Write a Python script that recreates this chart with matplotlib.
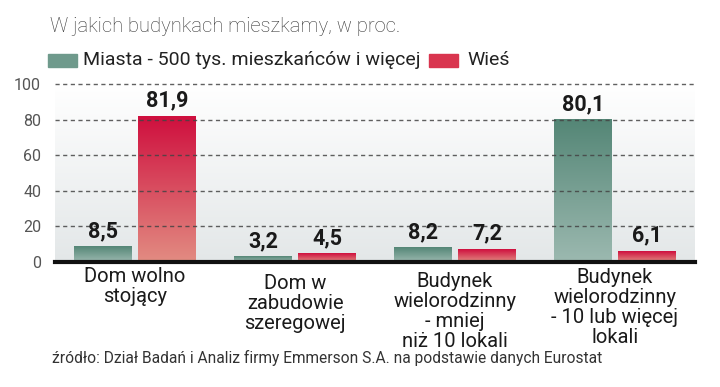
import numpy as np
import matplotlib.pyplot as plt
from matplotlib.colors import LinearSegmentedColormap

categories = [
    "Dom wolno\nstojący",
    "Dom w\nzabudowie\nszeregowej",
    "Budynek\nwielorodzinny\n- mniej\nniż 10 lokali",
    "Budynek\nwielorodzinny\n- 10 lub więcej\nlokali",
]
miasta = [8.5, 3.2, 8.2, 80.1]
wies = [81.9, 4.5, 7.2, 6.1]
value_labels_miasta = ["8,5", "3,2", "8,2", "80,1"]
value_labels_wies = ["81,9", "4,5", "7,2", "6,1"]
yticks = [0, 20, 40, 60, 80, 100]

title = "W jakich budynkach mieszkamy, w proc."
label_miasta = "Miasta - 500 tys. mieszkańców i więcej"
label_wies = "Wieś"
source = "źródło: Dział Badań i Analiz firmy Emmerson S.A. na podstawie danych Eurostat"

plt.rcParams["font.family"] = ["Roboto", "DejaVu Sans"]

green_cmap = LinearSegmentedColormap.from_list("g", ["#9cb9b0", "#548676"])
red_cmap = LinearSegmentedColormap.from_list("r", ["#e28c82", "#cf0f3e"])
bg_cmap = LinearSegmentedColormap.from_list("bg", ["#e3e7e8", "#ffffff"])

fig = plt.figure(figsize=(7.2, 3.87), dpi=100)
ax = fig.add_axes([55 / 720, 125 / 387, 640 / 720, 178 / 387])

x = np.arange(len(categories))
width = 0.36
offset = 0.2

# background gradient
grad = np.linspace(0, 1, 256).reshape(-1, 1)
ax.imshow(grad, cmap=bg_cmap, origin="lower", extent=[0, 1, 0, 1],
          transform=ax.transAxes, aspect="auto", zorder=0)

bars_m = ax.bar(x - offset, miasta, width, color="none", zorder=2)
bars_w = ax.bar(x + offset, wies, width, color="none", zorder=2)


def fill_gradient(bars, cmap):
    for b in bars:
        x0, h, w = b.get_x(), b.get_height(), b.get_width()
        ax.imshow(grad, cmap=cmap, origin="lower",
                  extent=[x0, x0 + w, 0, h], aspect="auto", zorder=2)


fill_gradient(bars_m, green_cmap)
fill_gradient(bars_w, red_cmap)
ax.set_xlim(-0.5, len(categories) - 0.5)
ax.set_ylim(0, 100)

for v in yticks[1:]:
    ax.axhline(v, color="#444444", lw=1.0, ls=(0, (3, 2.5)), alpha=0.85,
               zorder=3, clip_on=False)
ax.axhline(0, color="#111111", lw=3, zorder=4, clip_on=False)

for b, t in zip(list(bars_m) + list(bars_w),
                value_labels_miasta + value_labels_wies):
    ax.text(b.get_x() + b.get_width() / 2, b.get_height() + 2.5, t,
            ha="center", va="bottom", fontsize=15.5, fontweight="bold",
            color="#1a1a1a", zorder=5)

for s in ax.spines.values():
    s.set_visible(False)
ax.set_xticks([])
ax.set_yticks(yticks)
ax.set_yticklabels([str(v) for v in yticks], fontsize=11.5, color="#555555")
ax.tick_params(axis="y", length=0, pad=10)

label_y = [-3, -6.8, -5.8, -3.1]
for xi, lab, ly in zip(x, categories, label_y):
    ax.text(xi, ly, lab, ha="center", va="top", fontsize=14.5,
            color="#1a1a1a", linespacing=1.07)

fig.text(50 / 720, 1 - 27 / 387, title, fontsize=14.5, color="#333333",
         va="center", ha="left", fontweight="light")

# legend swatches
sw_w, sw_h = 29 / 720, 13 / 387
fig.patches.append(plt.Rectangle((48 / 720, 1 - 67 / 387), sw_w, sw_h,
                                 transform=fig.transFigure,
                                 color="#6f9a8c", figure=fig))
fig.text(83 / 720, 1 - 60 / 387, label_miasta, fontsize=14, color="#222222",
         va="center", ha="left")
fig.patches.append(plt.Rectangle((429 / 720, 1 - 67 / 387), sw_w, sw_h,
                                 transform=fig.transFigure,
                                 color="#d9354f", figure=fig))
fig.text(467 / 720, 1 - 60 / 387, label_wies, fontsize=14, color="#222222",
         va="center", ha="left")

fig.text(52 / 720, 1 - 358 / 387, source, fontsize=11.2, color="#333333",
         va="center", ha="left")

fig.savefig("out.png", dpi=100, facecolor="white")
